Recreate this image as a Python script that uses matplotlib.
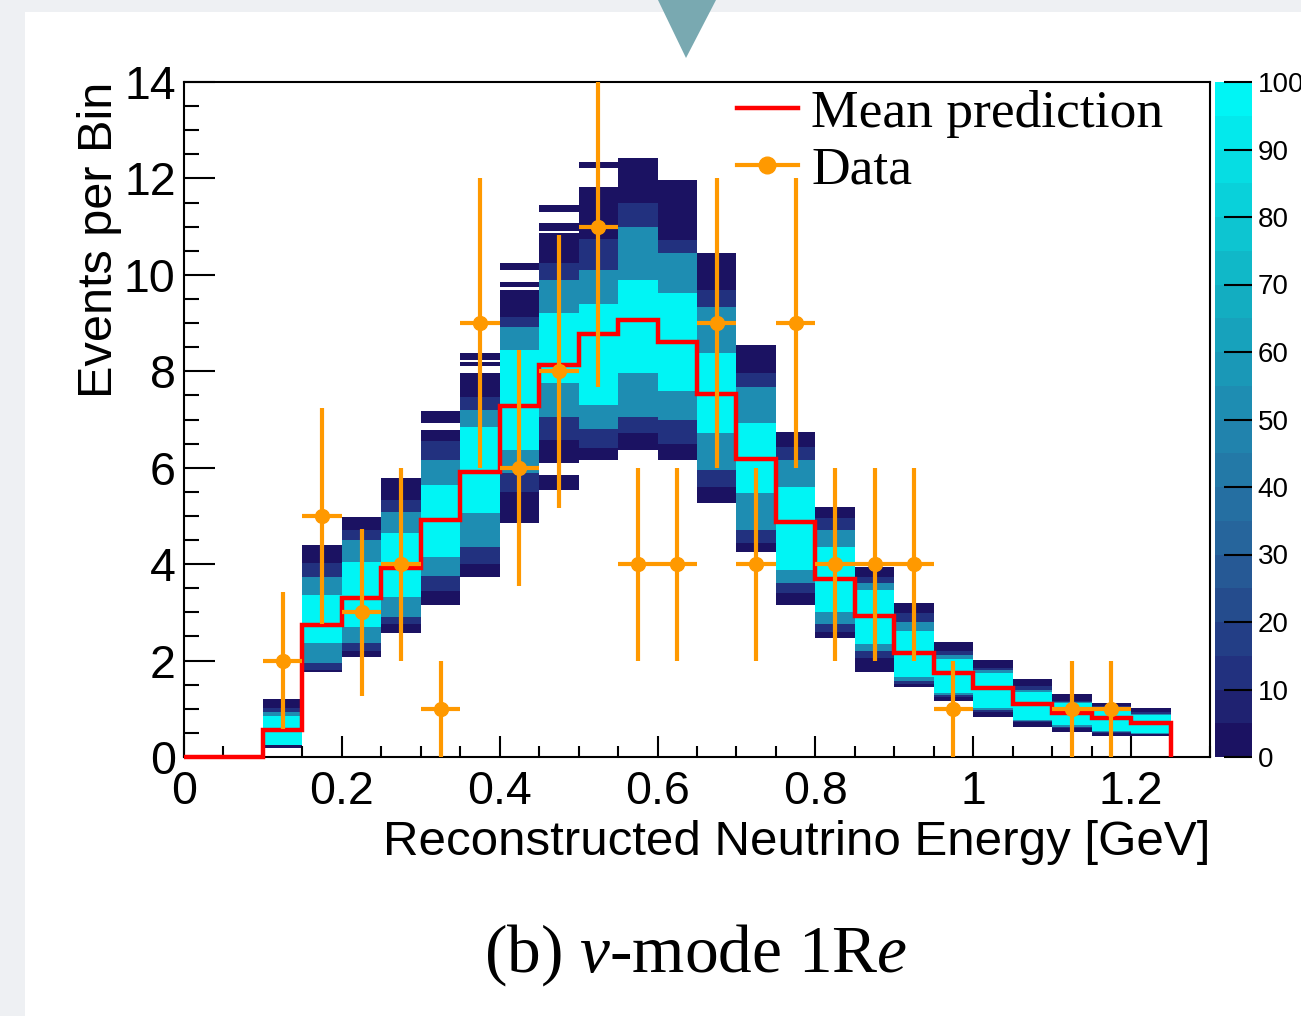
import numpy as np
import matplotlib
matplotlib.use("Agg")
import matplotlib.pyplot as plt
from matplotlib.colors import LinearSegmentedColormap, Normalize
from matplotlib.lines import Line2D
from matplotlib.patches import Rectangle, Polygon
from matplotlib.ticker import MultipleLocator, FuncFormatter
import matplotlib.cm as cm

plt.rcParams['font.family'] = ['Liberation Sans', 'DejaVu Sans']
plt.rcParams['mathtext.fontset'] = 'custom'
plt.rcParams['mathtext.rm'] = 'Liberation Serif'
plt.rcParams['mathtext.it'] = 'Liberation Serif:italic'

# ---- data -------------------------------------------------------------
bin_width = 0.05
bin_edges = np.round(np.arange(0, 1.25 + 1e-9, bin_width), 3)   # GeV
bin_centers = bin_edges[:-1] + bin_width / 2

mean_prediction = [0.0, 0.0, 0.56, 2.74, 3.30, 3.92, 4.92, 5.92, 7.27, 8.13,
                   8.78, 9.07, 8.60, 7.52, 6.18, 4.87, 3.69, 2.92, 2.15, 1.75,
                   1.44, 1.10, 0.92, 0.80, 0.70]

data_counts = [0, 0, 2, 5, 3, 4, 1, 9, 6, 8, 11, 4, 4, 9, 4, 9, 4, 4, 4, 1,
               0, 0, 1, 1, 0]

# posterior predictive bands: for each energy bin, boundaries of the
# zones (navy, dark, mid, saturated, mid, dark, navy) in events per bin
band_bins = list(range(2, 25))
band_edges = [
    [0.19, 0.25, 0.25, 0.25, 0.85, 0.93, 1.02, 1.20],
    [1.77, 1.80, 1.95, 2.36, 3.36, 3.73, 4.02, 4.40],
    [2.07, 2.20, 2.36, 2.70, 4.05, 4.50, 4.71, 4.98],
    [2.57, 2.75, 2.90, 3.32, 4.65, 5.08, 5.33, 5.79],
    [3.15, 3.45, 3.75, 4.15, 5.64, 6.16, 6.55, 6.78],
    [3.73, 4.00, 4.36, 5.06, 6.85, 7.20, 7.47, 7.97],
    [4.85, 5.50, 5.89, 6.37, 8.44, 8.92, 9.13, 9.69],
    [6.10, 6.58, 7.05, 7.76, 9.20, 9.90, 10.25, 10.87],
    [6.16, 6.40, 6.80, 7.30, 9.40, 10.10, 10.75, 11.83],
    [6.37, 6.72, 7.05, 7.97, 9.90, 11.00, 11.49, 12.43],
    [6.16, 6.50, 7.00, 7.60, 9.63, 10.46, 10.73, 11.97],
    [5.27, 5.60, 5.95, 6.72, 8.38, 9.34, 9.69, 10.46],
    [4.25, 4.44, 4.71, 5.48, 6.93, 7.68, 7.97, 8.55],
    [3.15, 3.40, 3.60, 3.88, 5.60, 6.16, 6.43, 6.74],
    [2.47, 2.60, 2.75, 3.00, 4.36, 4.71, 4.95, 5.19],
    [1.76, 2.05, 2.20, 2.35, 3.46, 3.60, 3.73, 3.94],
    [1.45, 1.52, 1.58, 1.66, 2.62, 2.80, 2.99, 3.19],
    [1.16, 1.24, 1.28, 1.33, 2.03, 2.12, 2.20, 2.39],
    [0.83, 0.93, 0.97, 1.02, 1.74, 1.80, 1.85, 2.01],
    [0.62, 0.72, 0.75, 0.77, 1.35, 1.40, 1.47, 1.62],
    [0.52, 0.60, 0.63, 0.66, 1.12, 1.14, 1.17, 1.31],
    [0.44, 0.50, 0.52, 0.54, 0.98, 1.02, 1.05, 1.12],
    [0.44, 0.47, 0.48, 0.50, 0.87, 0.90, 0.93, 1.02],
]
band_levels = [2, 12, 50, 100, 50, 12, 2]

# isolated low-population cells outside the main bands: (bin, low, high)
stray_cells = [
    (6, 6.93, 7.18), (7, 8.10, 8.20), (7, 8.24, 8.38),
    (8, 9.75, 9.85), (8, 10.10, 10.25), (9, 10.90, 11.08),
    (9, 11.30, 11.45), (9, 5.54, 5.85), (10, 12.22, 12.35),
]
stray_level = 2

cbar_ticks = list(range(0, 101, 10))

# ---- style ------------------------------------------------------------
W, H = 1301, 1016
orange = '#ff9900'
palette = LinearSegmentedColormap.from_list(
    'posterior',
    [(0.0, '#1b1262'), (0.1, '#22307e'), (0.3, '#27629a'),
     (0.5, '#2088b0'), (0.7, '#12b0c2'), (1.0, '#00f5f5')], N=20)
norm = Normalize(0, 100)

fig = plt.figure(figsize=(W / 100, H / 100), dpi=100, facecolor='#eef0f3')
fig.add_artist(Rectangle((25 / W, 0), 1, 1 - 12 / H, transform=fig.transFigure,
                         facecolor='white', edgecolor='none', zorder=-2))
fig.add_artist(Polygon([(658 / W, 1.0), (716 / W, 1.0), (686 / W, 1 - 58 / H)],
                       closed=True, transform=fig.transFigure,
                       facecolor='#79a9b1', edgecolor='none', zorder=-1))

ax = fig.add_axes([184 / W, 1 - 757 / H, (1210 - 184) / W, (757 - 82) / H])
cax = fig.add_axes([1215 / W, 1 - 757 / H, 37 / W, (757 - 82) / H])

# posterior predictive cells
xs, bots, hts, cols = [], [], [], []
for k, edges in zip(band_bins, band_edges):
    for i, lvl in enumerate(band_levels):
        h = edges[i + 1] - edges[i]
        if h > 0:
            xs.append(bin_centers[k]); bots.append(edges[i]); hts.append(h)
            cols.append(palette(norm(lvl)))
for k, lo, hi in stray_cells:
    xs.append(bin_centers[k]); bots.append(lo); hts.append(hi - lo)
    cols.append(palette(norm(stray_level)))
ax.bar(xs, hts, bottom=bots, width=bin_width, color=cols, linewidth=0,
       antialiased=False, zorder=1)

# mean prediction
ax.stairs(mean_prediction, bin_edges, baseline=0, color='red', linewidth=3.2,
          zorder=3, clip_on=False)

# data
counts = np.array(data_counts, dtype=float)
sel = counts > 0
ax.errorbar(bin_centers[sel], counts[sel], yerr=np.sqrt(counts[sel]),
            xerr=bin_width / 2, fmt='o', color=orange, ms=10, elinewidth=3,
            capsize=0, zorder=4)

ax.set_xlim(0, 1.3)
ax.set_ylim(0, 14)
ax.xaxis.set_major_locator(MultipleLocator(0.2))
ax.xaxis.set_minor_locator(MultipleLocator(0.05))
ax.yaxis.set_major_locator(MultipleLocator(2))
ax.yaxis.set_minor_locator(MultipleLocator(0.5))
fmt = FuncFormatter(lambda v, p: '%g' % round(v, 3))
ax.xaxis.set_major_formatter(fmt)
ax.yaxis.set_major_formatter(fmt)
ax.tick_params(which='both', direction='in', top=False, right=False,
               width=1.5, labelsize=33.5)
ax.tick_params(axis='y', which='major', length=22, pad=6)
ax.tick_params(axis='y', which='minor', length=11)
ax.tick_params(axis='x', which='major', length=15, pad=9)
ax.tick_params(axis='x', which='minor', length=8)
for s in ax.spines.values():
    s.set_linewidth(1.5)

ax.set_xlabel('Reconstructed Neutrino Energy [GeV]', fontsize=35.5, loc='right')
ax.xaxis.set_label_coords(1.0, -0.093)
ax.set_ylabel('Events per Bin', fontsize=35, loc='top')
ax.yaxis.set_label_coords(-0.06, 1.0)

handles = [Line2D([], [], color='red', lw=3.2),
           Line2D([], [], color=orange, lw=3, marker='o', ms=12)]
ax.legend(handles, ['Mean prediction', 'Data'], loc='upper left',
          bbox_to_anchor=(0.536, 0.993), frameon=False,
          prop={'family': 'Liberation Serif', 'size': 38.5},
          handlelength=1.15, handletextpad=0.25, borderaxespad=0,
          borderpad=0.05, labelspacing=0.15)

sm = cm.ScalarMappable(norm=norm, cmap=palette)
cb = fig.colorbar(sm, cax=cax, ticks=cbar_ticks)
cb.outline.set_visible(False)
cax.tick_params(direction='in', length=20, width=1.5, labelsize=20, pad=4)

fig.text(696 / W, 1 - 955 / H, r'(b) $\nu$-mode 1R$e$', ha='center',
         va='center', fontsize=48.5, family='Liberation Serif')

fig.savefig('out.png', dpi=100, facecolor=fig.get_facecolor())
